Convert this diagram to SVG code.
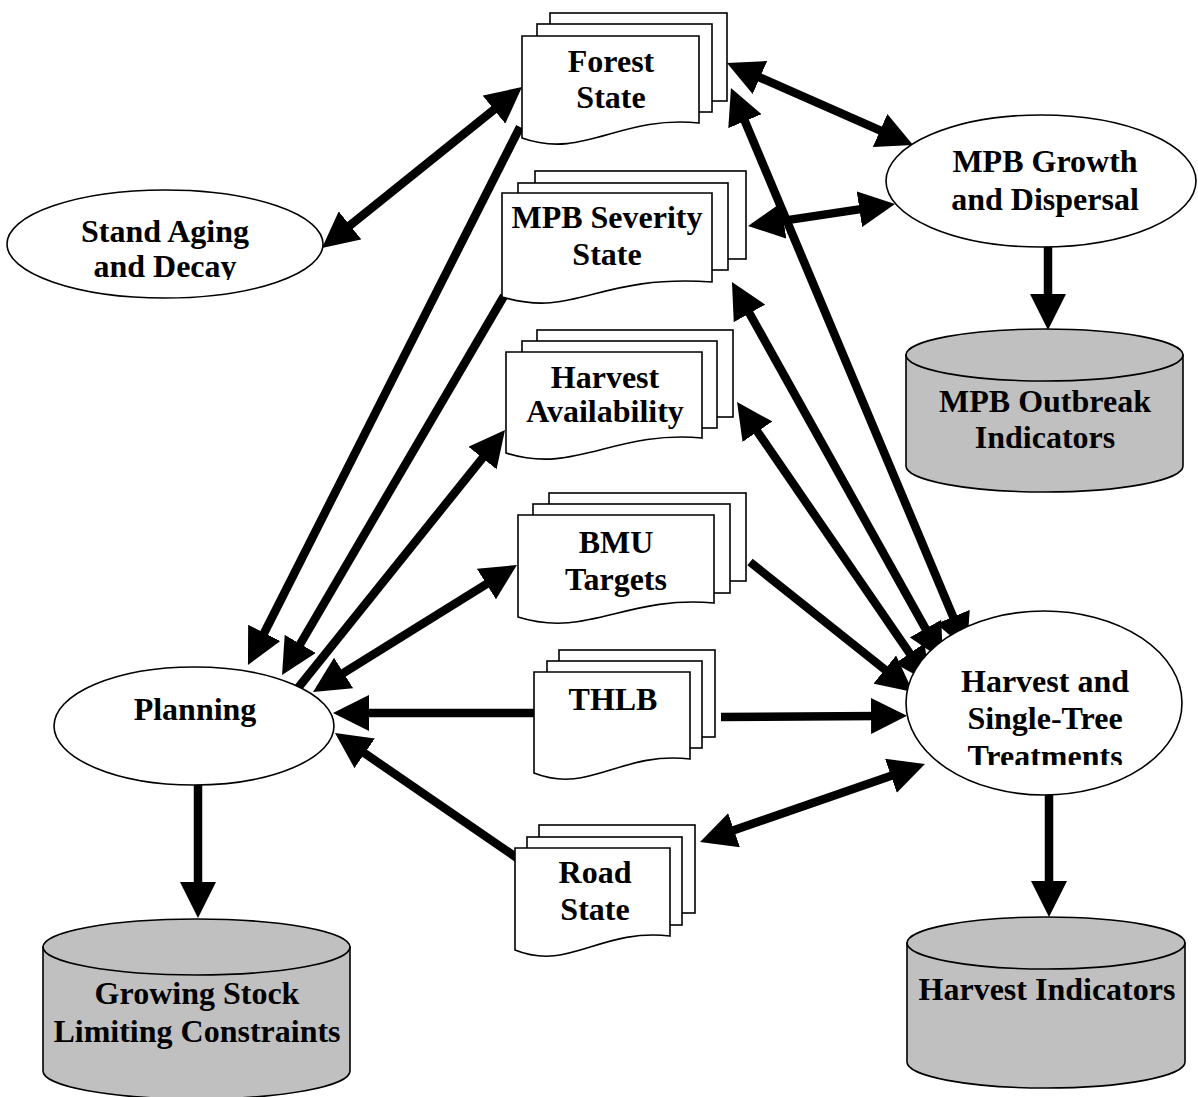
<svg xmlns="http://www.w3.org/2000/svg" width="1198" height="1097" viewBox="0 0 1198 1097">
<style>
.shape{fill:#fff;stroke:#000;stroke-width:1.6}
.db{fill:#c0c0c0;stroke:#000;stroke-width:1.6}
.t{font-family:"Liberation Serif","Times New Roman",serif;font-weight:bold;font-size:32px;fill:#000;text-anchor:middle}
.c{fill:none;stroke:#000;stroke-width:8.5}
</style>
<defs>
<marker id="ah" viewBox="0 0 36 36" markerUnits="userSpaceOnUse" markerWidth="36" markerHeight="36" refX="8" refY="18" orient="auto-start-reverse">
<path d="M0,0 L36,18 L0,36 Z" fill="#000"/>
</marker>
<clipPath id="clipStand"><rect x="0" y="180" width="340" height="100"/></clipPath>
<clipPath id="clipHarv"><rect x="900" y="600" width="298" height="165"/></clipPath>
</defs>
<rect width="1198" height="1097" fill="#fff"/>

<g id="connectors">
<line class="c" x1="343.8" y1="230.4" x2="500.2" y2="104.6" marker-start="url(#ah)" marker-end="url(#ah)"/>
<line class="c" x1="520" y1="127" x2="260.6" y2="640" marker-end="url(#ah)"/>
<line class="c" x1="504" y1="296" x2="296.2" y2="650.8" marker-end="url(#ah)"/>
<line class="c" x1="298" y1="688" x2="487.5" y2="451.8" marker-end="url(#ah)"/>
<line class="c" x1="336.8" y1="677.2" x2="493.2" y2="579.8" marker-start="url(#ah)" marker-end="url(#ah)"/>
<line class="c" x1="534" y1="713" x2="361" y2="713" marker-end="url(#ah)"/>
<line class="c" x1="520" y1="860" x2="358.1" y2="748.8" marker-end="url(#ah)"/>
<line class="c" x1="721" y1="717" x2="879" y2="716" marker-end="url(#ah)"/>
<line class="c" x1="750" y1="562" x2="891.1" y2="674.5" marker-end="url(#ah)"/>
<line class="c" x1="752.9" y1="425.1" x2="914.2" y2="659.9" marker-start="url(#ah)" marker-end="url(#ah)"/>
<line class="c" x1="745.6" y1="306.4" x2="929.4" y2="635.6" marker-start="url(#ah)" marker-end="url(#ah)"/>
<line class="c" x1="741.8" y1="113.8" x2="956.2" y2="624.2" marker-start="url(#ah)" marker-end="url(#ah)"/>
<line class="c" x1="752.6" y1="74.3" x2="887.4" y2="133.7" marker-start="url(#ah)" marker-end="url(#ah)"/>
<line class="c" x1="775.7" y1="221.9" x2="867.3" y2="208.1" marker-start="url(#ah)" marker-end="url(#ah)"/>
<line class="c" x1="726.5" y1="832.8" x2="898.5" y2="773.2" marker-start="url(#ah)" marker-end="url(#ah)"/>
<line class="c" x1="1048" y1="247" x2="1048" y2="302" marker-end="url(#ah)"/>
<line class="c" x1="198" y1="785" x2="198" y2="890" marker-end="url(#ah)"/>
<line class="c" x1="1049" y1="793" x2="1049" y2="889" marker-end="url(#ah)"/>
</g>

<g id="forest-state">
<rect class="shape" x="550" y="13" width="177" height="88"/>
<rect class="shape" x="537" y="24" width="175" height="88"/>
<path class="shape" d="M522,36 H699 V123 C619,115 584,160 522,138 Z"/>
<text class="t" x="611" y="72">Forest</text>
<text class="t" x="611" y="108">State</text>
</g>

<g id="mpb-severity-state">
<rect class="shape" x="535" y="171" width="211" height="88"/>
<rect class="shape" x="518" y="183" width="210" height="87"/>
<path class="shape" d="M502,193 H712 V282 C596,274 576,319 502,297 Z"/>
<text class="t" x="607" y="228">MPB Severity</text>
<text class="t" x="607" y="265">State</text>
</g>

<g id="harvest-availability">
<rect class="shape" x="537" y="330" width="196" height="87"/>
<rect class="shape" x="522" y="341" width="195" height="87"/>
<path class="shape" d="M506,352 H702 V438 C614,430 575,475 506,453 Z"/>
<text class="t" x="605" y="388">Harvest</text>
<text class="t" x="605" y="422">Availability</text>
</g>

<g id="bmu-targets">
<rect class="shape" x="549" y="493" width="197" height="88"/>
<rect class="shape" x="533" y="504" width="197" height="89"/>
<path class="shape" d="M518,515 H714 V603 C626,595 587,639 518,617 Z"/>
<text class="t" x="616" y="553">BMU</text>
<text class="t" x="616" y="590">Targets</text>
</g>

<g id="thlb">
<rect class="shape" x="559" y="650" width="156" height="87"/>
<rect class="shape" x="547" y="661" width="155" height="87"/>
<path class="shape" d="M534,672 H690 V759 C620,751 589,795 534,773 Z"/>
<text class="t" x="613" y="710">THLB</text>
</g>

<g id="road-state">
<rect class="shape" x="539" y="825" width="156" height="88"/>
<rect class="shape" x="527" y="837" width="155" height="88"/>
<path class="shape" d="M515,848 H670 V936 C600,928 569,972 515,950 Z"/>
<text class="t" x="595" y="883">Road</text>
<text class="t" x="595" y="920">State</text>
</g>

<g id="stand-aging">
<ellipse class="shape" cx="165" cy="244" rx="158" ry="54"/>
<g clip-path="url(#clipStand)">
<text class="t" x="165" y="242">Stand Aging</text>
<text class="t" x="165" y="277">and Decay</text>
</g>
</g>

<g id="mpb-growth">
<ellipse class="shape" cx="1041" cy="181" rx="155" ry="66"/>
<text class="t" x="1045" y="172">MPB Growth</text>
<text class="t" x="1045" y="210">and Dispersal</text>
</g>

<g id="planning">
<ellipse class="shape" cx="194" cy="726" rx="140" ry="59"/>
<text class="t" x="195" y="720">Planning</text>
</g>

<g id="harvest-treatments">
<ellipse class="shape" cx="1044" cy="703" rx="138" ry="92"/>
<g clip-path="url(#clipHarv)">
<text class="t" x="1045" y="692">Harvest and</text>
<text class="t" x="1045" y="729">Single-Tree</text>
<text class="t" x="1045" y="767">Treatments</text>
</g>
</g>

<g id="mpb-outbreak-indicators">
<path class="db" d="M906,355 V466 A138.5,26 0 0 0 1183,466 V355 Z"/>
<ellipse class="db" cx="1044.5" cy="355" rx="138.5" ry="26"/>
<text class="t" x="1045" y="412">MPB Outbreak</text>
<text class="t" x="1045" y="448">Indicators</text>
</g>

<g id="growing-stock">
<path class="db" d="M43,947 V1071 A153.5,28 0 0 0 350,1071 V947 Z"/>
<ellipse class="db" cx="196.5" cy="947" rx="153.5" ry="28"/>
<text class="t" x="197" y="1004">Growing Stock</text>
<text class="t" x="197" y="1042">Limiting Constraints</text>
</g>

<g id="harvest-indicators">
<path class="db" d="M907,943 V1062 A139,26 0 0 0 1185,1062 V943 Z"/>
<ellipse class="db" cx="1046" cy="943" rx="139" ry="26"/>
<text class="t" x="1047" y="1000">Harvest Indicators</text>
</g>
</svg>
